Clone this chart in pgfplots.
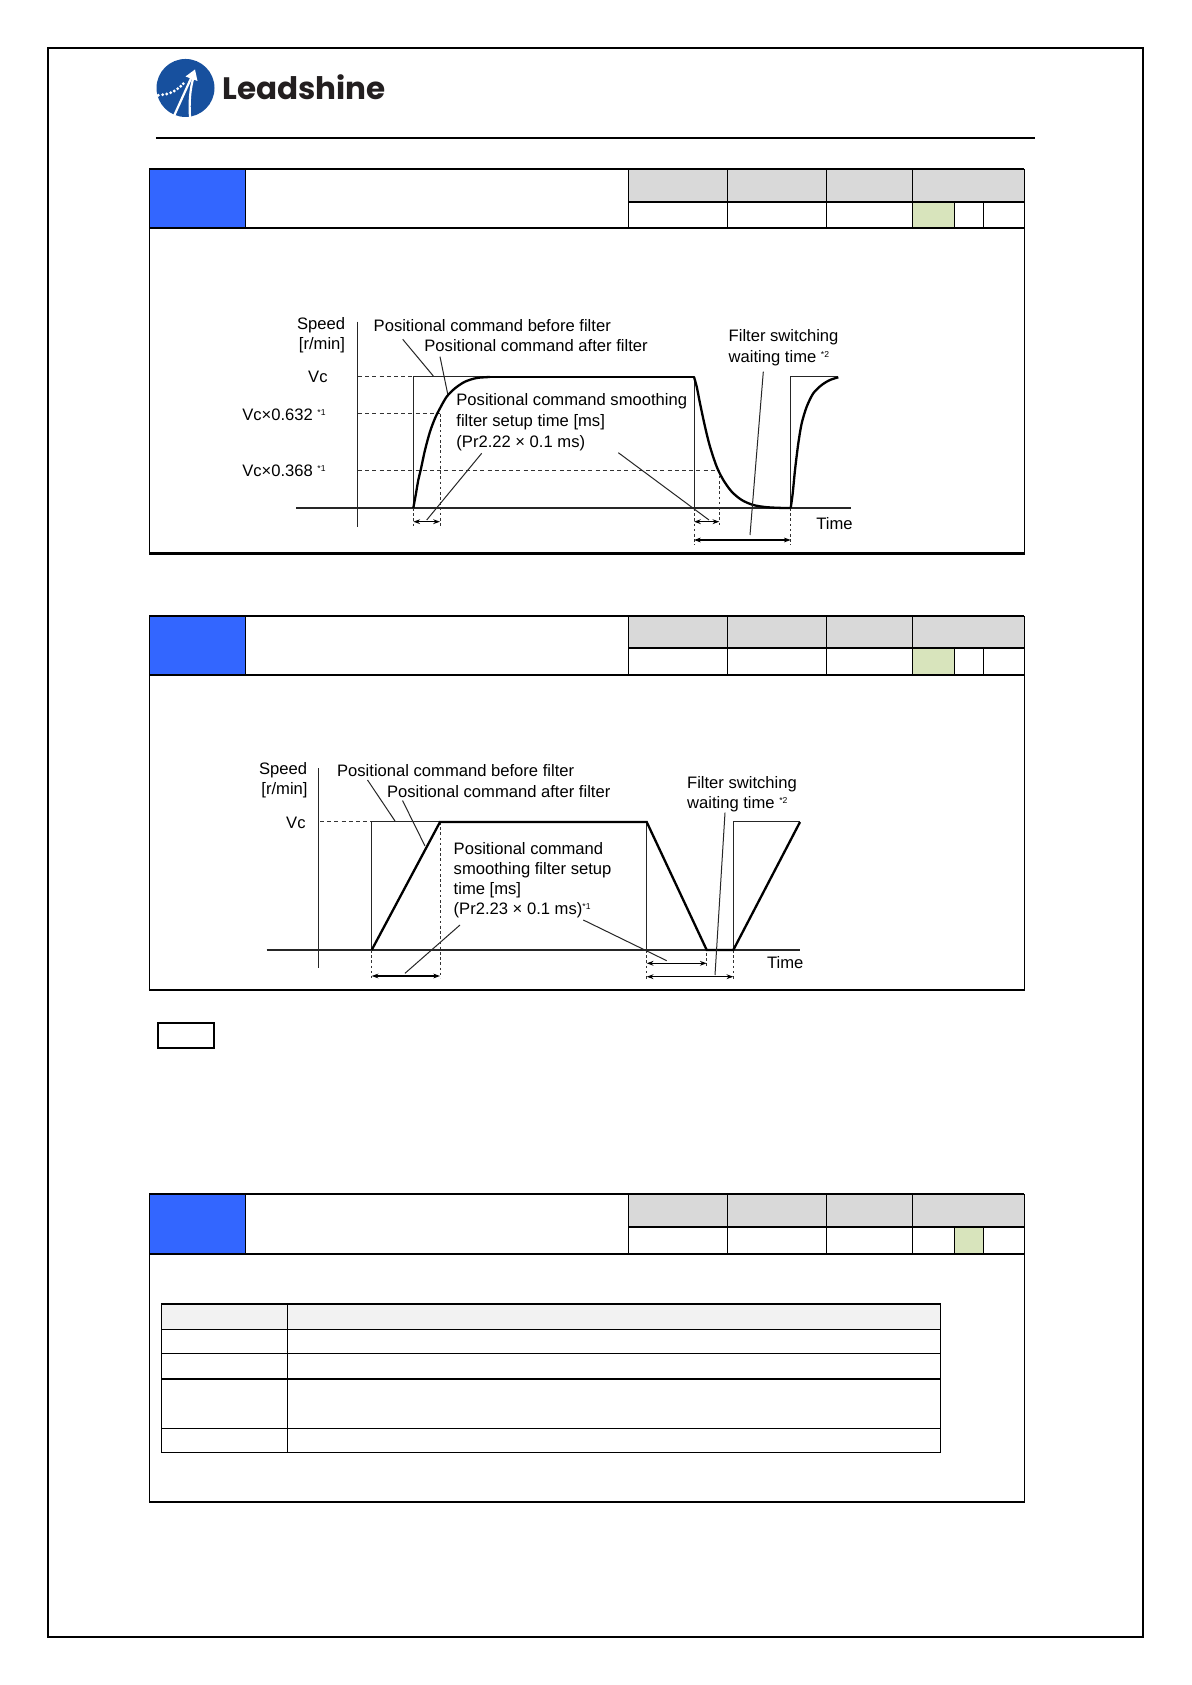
\documentclass[border=0pt]{standalone}
\usepackage{pgfplots}
\pgfplotsset{compat=1.18}
\usepackage{fontspec}
\setmainfont{Liberation Sans}
\newfontfamily\logofont{Poppins}
\usetikzlibrary{arrows.meta}
\definecolor{hdrblue}{HTML}{3366FF}
\definecolor{hdrgray}{HTML}{D9D9D9}
\definecolor{hdrgreen}{HTML}{D8E4BC}
\definecolor{logoblue}{HTML}{17509E}
\definecolor{logotext}{HTML}{231F20}
\definecolor{rowgray}{HTML}{F2F2F2}
\newcommand{\cf}{\fontsize{8.3}{10}\selectfont}
\newcommand{\sr}[1]{\raisebox{0.6ex}{\fontsize{4.3}{5}\selectfont #1}}
\newcommand{\hdrtable}[6]{%
 \fill[hdrblue] (149.4,#1) rectangle (245.1,#3);
 \fill[hdrgray] (628.8,#1) rectangle (1024.4,#2);
 \fill[hdrgreen] (#5,#2) rectangle (#6,#3);
 \draw[line width=0.35pt] (727.7,#1) -- (727.7,#3);
 \draw[line width=0.4pt] (628.8,#1) -- (628.8,#3);
 \draw[line width=0.7pt] (826.6,#1) -- (826.6,#3);
 \draw[line width=0.45pt] (912.6,#1) -- (912.6,#3);
 \draw[line width=0.4pt] (954.5,#2) -- (954.5,#3);
 \draw[line width=0.5pt] (983.5,#2) -- (983.5,#3);
 \draw[line width=0.45pt] (245.1,#1) -- (245.1,#3);
 \draw[line width=0.8pt] (628.8,#2) -- (1024.4,#2);
 \draw[line width=1pt] (149.4,#3) -- (1024.4,#3);
 \draw[line width=0.9pt] (149.4,#1) -- (1024.4,#1);
 \draw[line width=0.7pt] (149.4,#1) -- (149.4,#4);
 \draw[line width=0.7pt] (1024.4,#1) -- (1024.4,#4);
 \draw[line width=1.1pt] (148.9,#4) -- (1024.9,#4);
}
\tikzset{
 thinl/.style={line width=0.5pt, black!85},
 thickc/.style={line width=1.15pt, black},
 axl/.style={line width=0.65pt, black!85},
 dashl/.style={line width=0.5pt, black!80, dash pattern=on 2pt off 1.6pt},
 dotl/.style={line width=0.5pt, black!80, dash pattern=on 1.3pt off 1.3pt},
 arr/.style={line width=0.55pt, {Stealth[length=3.4pt,width=2.4pt]}-{Stealth[length=3.4pt,width=2.4pt]}},
}
\begin{document}
\begin{tikzpicture}
\useasboundingbox (0,0) rectangle (595.5pt,842.5pt);
\fill[white] (0,0) rectangle (595.5pt,842.5pt);
\begin{scope}[x=0.5pt,y=-0.5pt,shift={(0,842.5pt)}]
 % page frame and header
 \draw[line width=1pt] (48.4,48.4) rectangle (1142.6,1637);
 \draw[line width=1pt] (155.9,138.4) -- (1035,138.4);
 % logo
 \fill[logoblue] (185.5,88) circle[radius=14.5pt];
 \draw[white, line width=1.1pt] (174,116) -- (192.5,75);
 \draw[white, line width=1.1pt] (190,117) .. controls (189,102) and (190,90) .. (193.5,77);
 \fill[white] (195,69.5) -- (185.5,76.5) -- (197.5,81) -- cycle;
 \foreach \p in {(158.3,95.3),(162.7,94.7),(166.7,94),(170.7,92.7),(174.3,91),(177.7,88.7),(180.7,86.3),(183.3,83.7)}
   \fill[white] \p circle[radius=0.8pt];
 \node[anchor=base west, inner sep=0, text=logotext] at (222,100) {\logofont\bfseries\fontsize{15.5}{16}\selectfont Leadshine};
 % tables
 \hdrtable{169}{202}{228.5}{553.6}{912.6}{954.5}
 \hdrtable{616}{648.2}{675}{990}{912.6}{954.5}
 \hdrtable{1194.3}{1227}{1254.3}{1501.7}{954.5}{983.5}
 % small box
 \draw[line width=0.9pt] (158.3,1023) rectangle (214,1048);
 % inner table of table 3
 \fill[rowgray] (161.2,1304) rectangle (940.8,1329.3);
 \draw[line width=0.6pt] (161.2,1304) rectangle (940.8,1452.3);
 \draw[line width=1pt] (161.2,1304) -- (940.8,1304);
 \draw[line width=0.6pt] (161.2,1329.3) -- (940.8,1329.3);
 \draw[line width=0.6pt] (161.2,1353.3) -- (940.8,1353.3);
 \draw[line width=1pt] (161.2,1378.7) -- (940.8,1378.7);
 \draw[line width=0.6pt] (161.2,1428.3) -- (940.8,1428.3);
 \draw[line width=0.6pt] (287.5,1304) -- (287.5,1452.3);
 % chart 1 texts
 \begin{scope}[every node/.style={inner sep=0, font=\cf}]
 \node[anchor=base] at (321,329.5) {Speed};
 \node[anchor=base] at (322,350) {[r/min]};
 \node[anchor=base east] at (328,382.5) {Vc};
 \node[anchor=base east] at (326,420.5) {Vc×0.632 \sr{*1}};
 \node[anchor=base east] at (326,477) {Vc×0.368 \sr{*1}};
 \node[anchor=base west] at (373.3,332) {Positional command before filter};
 \node[anchor=base west] at (424,351.7) {Positional command after filter};
 \node[anchor=base west] at (456,406) {Positional command smoothing};
 \node[anchor=base west] at (456,427) {filter setup time [ms]};
 \node[anchor=base west] at (456,447.7) {(Pr2.22 × 0.1 ms)};
 \node[anchor=base west] at (728.3,341.7) {Filter switching};
 \node[anchor=base west] at (728.3,362.7) {waiting time \sr{*2}};
 \node[anchor=base west] at (816,530) {Time};
 % chart 2 texts
 \node[anchor=base] at (283,774.3) {Speed};
 \node[anchor=base] at (284.5,795) {[r/min]};
 \node[anchor=base east] at (306,828.7) {Vc};
 \node[anchor=base west] at (336.7,777) {Positional command before filter};
 \node[anchor=base west] at (386.7,797.5) {Positional command after filter};
 \node[anchor=base west] at (453.3,854.3) {Positional command};
 \node[anchor=base west] at (453.3,874.3) {smoothing filter setup};
 \node[anchor=base west] at (453.3,894.3) {time [ms]};
 \node[anchor=base west] at (453.3,914.3) {(Pr2.23 × 0.1 ms)\sr{*1}};
 \node[anchor=base west] at (686.7,788.7) {Filter switching};
 \node[anchor=base west] at (686.7,808.7) {waiting time \sr{*2}};
 \node[anchor=base west] at (766.7,968.7) {Time};
 \end{scope}
\end{scope}
\begin{axis}[at={(0,0)}, anchor=south west, width=595.5pt, height=842.5pt,
  scale only axis, xmin=0, xmax=1191, ymin=0, ymax=1685, y dir=reverse,
  hide axis, clip=false, every axis plot/.append style={no markers}]
% ===== chart 1 =====
\addplot[axl] coordinates {(357.3,321.7) (357.3,526.7)};
\addplot[axl] coordinates {(296,508) (850.7,508)};
\addplot[dashl] coordinates {(358,377) (413.3,377)};
\addplot[dashl] coordinates {(358,414) (440,414)};
\addplot[dashl] coordinates {(358,470.7) (719.3,470.7)};
\addplot[dotl] coordinates {(413.3,508) (413.3,527)};
\addplot[dotl] coordinates {(440,414) (440,527)};
\addplot[dotl] coordinates {(694,508) (694,545)};
\addplot[dotl] coordinates {(719.3,470.7) (719.3,527)};
\addplot[dotl] coordinates {(790.7,508) (790.7,545)};
% before filter
\addplot[thinl] coordinates {(413.3,508) (413.3,377) (694,377) (694,508)};
\addplot[thinl] coordinates {(790.7,508) (790.7,377) (838.3,377)};
% after filter
\addplot[thickc, smooth, tension=0.5] coordinates {(413.3,508) (416,493.3) (418.3,480) (420.7,470) (425,450) (430,431.7) (435,418.3) (440,408.3) (446.7,396.7) (455,388.3) (465,381.7) (476.7,378) (490,377)};
\addplot[thickc] coordinates {(490,377) (694,377)};
\addplot[thickc, smooth, tension=0.5] coordinates {(694,377) (696.7,386.7) (700,403.3) (705,426.7) (710,446.7) (716.7,466.7) (723.3,480) (731.7,491.7) (741.7,500) (753.3,505) (766.7,507.2) (783.3,508) (790.7,508)};
\addplot[thickc, smooth, tension=0.5] coordinates {(790.7,508) (792.7,493.3) (795,470) (798.3,443.3) (801.7,423.3) (806.7,406.7) (813.3,393.3) (821.7,385) (830,380) (838.3,377.3)};
% leaders
\addplot[thinl] coordinates {(402.7,339.3) (433.3,376)};
\addplot[thinl] coordinates {(440,356.7) (447.7,394)};
\addplot[thinl] coordinates {(481.7,453.3) (426.7,520)};
\addplot[thinl] coordinates {(618.3,452.7) (709,520)};
\addplot[thinl] coordinates {(763.3,371.7) (750,535)};
% arrows
\addplot[arr] coordinates {(413.3,521.7) (440,521.7)};
\addplot[arr] coordinates {(694,521.7) (719.3,521.7)};
\addplot[arr] coordinates {(694,540) (790.7,540)};
% ===== chart 2 =====
\addplot[axl] coordinates {(318.7,768.3) (318.7,967.7)};
\addplot[axl] coordinates {(266.7,950) (800,950)};
\addplot[dashl] coordinates {(320,822) (371.7,822)};
\addplot[dotl] coordinates {(371.7,950) (371.7,978)};
\addplot[dotl] coordinates {(440,822) (440,978)};
\addplot[dotl] coordinates {(646.7,950) (646.7,980)};
\addplot[dotl] coordinates {(706.7,953) (706.7,967)};
\addplot[dotl] coordinates {(733.3,950) (733.3,980)};
\addplot[thinl] coordinates {(371.7,950) (371.7,822) (646.7,822) (646.7,950)};
\addplot[thinl] coordinates {(733.3,950) (733.3,822) (800,822)};
\addplot[thickc] coordinates {(371.7,950) (440,822) (646.7,822) (706.7,950) (733.3,950) (800,822)};
\addplot[thinl] coordinates {(367.5,780) (395,821)};
\addplot[thinl] coordinates {(402.5,800.5) (425,846)};
\addplot[thinl] coordinates {(460,925) (405,973.3)};
\addplot[thinl] coordinates {(583.3,920) (666.7,960.7)};
\addplot[thinl] coordinates {(725,812.7) (715,975)};
\addplot[arr] coordinates {(371.7,976) (440,976)};
\addplot[arr] coordinates {(646.7,963.3) (706.7,963.3)};
\addplot[arr] coordinates {(646.7,976.7) (733.3,976.7)};
\end{axis}
\end{tikzpicture}
\end{document}
